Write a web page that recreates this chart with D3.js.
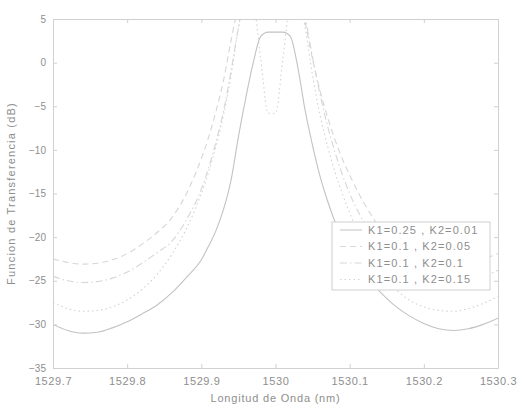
<!DOCTYPE html>
<html>
<head>
<meta charset="utf-8">
<script src="https://cdnjs.cloudflare.com/ajax/libs/d3/7.8.5/d3.min.js"></script>
<style>
  body { margin: 0; background: #fff; }
  svg text { font-family: "Liberation Sans", Arial, sans-serif; }
</style>
</head>
<body>
<div id="chart"></div>
<script>
// wavelength grid (nm)
var wavelengths = [1529.70, 1529.72, 1529.74, 1529.76, 1529.78, 1529.80, 1529.82, 1529.84, 1529.86, 1529.88,
  1529.90, 1529.91, 1529.92, 1529.93, 1529.94, 1529.95, 1529.96, 1529.97, 1529.98, 1529.99,
  1530.00, 1530.01, 1530.02, 1530.03, 1530.04, 1530.05, 1530.06, 1530.07, 1530.08, 1530.09,
  1530.10, 1530.12, 1530.14, 1530.16, 1530.18, 1530.20, 1530.22, 1530.24, 1530.26, 1530.28, 1530.30];

// transfer function (dB), values above 5 are cut off by the plot box
var k1_025_k2_001 = [-30.0, -30.7, -31.0, -30.9, -30.4, -29.7, -28.8, -27.8, -26.4, -24.6,
  -22.6, -21.0, -19.2, -16.8, -13.5, -8.5, -4.0, 0.0, 3.0, 3.5,
  3.5, 3.5, 3.0, -0.5, -5.5, -9.5, -13.0, -15.8, -18.2, -20.2,
  -21.8, -24.2, -26.2, -27.8, -29.0, -29.9, -30.5, -30.7, -30.5, -30.0, -29.3];
var k1_01_k2_005 = [-22.5, -22.9, -23.1, -23.0, -22.6, -21.9, -20.8, -19.5, -17.8, -15.0,
  -11.0, -8.5, -5.5, -2.0, 2.5, 6.5, 9.0, 10.5, 11.0, 11.5,
  11.5, 11.0, 10.0, 8.0, 4.6, 0.4, -3.2, -6.2, -8.8, -11.0,
  -12.9, -16.2, -18.8, -20.6, -21.9, -22.6, -23.0, -23.1, -22.9, -22.5, -21.9];
var k1_01_k2_01 = [-24.5, -25.0, -25.2, -25.1, -24.7, -24.0, -23.0, -21.8, -20.5, -18.0,
  -14.5, -12.0, -9.0, -5.5, -1.0, 4.0, 8.0, 10.5, 11.5, 11.5,
  11.5, 11.5, 11.0, 9.0, 5.2, 0.6, -3.6, -7.2, -10.2, -12.8,
  -15.0, -18.4, -21.0, -22.8, -24.0, -24.7, -25.1, -25.2, -25.0, -24.5, -23.8];
var k1_01_k2_015 = [-27.5, -28.2, -28.5, -28.4, -28.0, -27.2, -26.0, -24.3, -22.0, -19.0,
  -15.0, -12.5, -9.5, -6.0, -1.5, 4.0, 8.5, 7.0, 0.5, -5.8,
  -5.8, 0.5, 7.0, 8.5, 4.0, -1.5, -6.0, -9.5, -12.5, -15.0,
  -17.2, -21.0, -23.8, -25.8, -27.2, -28.0, -28.4, -28.5, -28.2, -27.6, -26.8];

var seriesNames = ["K1=0.25 , K2=0.01", "K1=0.1 , K2=0.05", "K1=0.1 , K2=0.1", "K1=0.1 , K2=0.15"];
var seriesValues = [k1_025_k2_001, k1_01_k2_005, k1_01_k2_01, k1_01_k2_015];
var seriesDash = ["none", "6,4", "7,3,1.5,3", "1.5,3"];
var seriesColor = ["#c2c2c2", "#d6d6d6", "#d6d6d6", "#d2d2d2"];

var xTicks = [1529.7, 1529.8, 1529.9, 1530.0, 1530.1, 1530.2, 1530.3];
var xTickLabels = ["1529.7", "1529.8", "1529.9", "1530", "1530.1", "1530.2", "1530.3"];
var yTicks = [5, 0, -5, -10, -15, -20, -25, -30, -35];

// set the dimensions and margins of the graph
var margin = {top: 19, right: 22, bottom: 38, left: 53},
width = 520 - margin.left - margin.right,
height = 406 - margin.top - margin.bottom;

var svg = d3.select("#chart")
.append("svg")
.attr("width", width + margin.left + margin.right)
.attr("height", height + margin.top + margin.bottom)
.append("g")
.attr("transform", "translate(" + margin.left + "," + margin.top + ")");

var x = d3.scaleLinear().domain([1529.7, 1530.3]).range([0, width]);
var y = d3.scaleLinear().domain([-35, 5]).range([height, 0]);

var axisColor = "#d0d0d0", textColor = "#8e8e8e";

// clip the curves to the plot box
svg.append("clipPath").attr("id", "clip")
.append("rect").attr("width", width).attr("height", height);

// the curves
var line = d3.line()
.x(function(d) { return x(d[0]); })
.y(function(d) { return y(d[1]); })
.curve(d3.curveMonotoneX);

svg.append("g").attr("clip-path", "url(#clip)")
.selectAll("path")
.data(seriesValues)
.enter()
.append("path")
.attr("d", function(vals) { return line(wavelengths.map(function(w, i) { return [w, vals[i]]; })); })
.style("fill", "none")
.style("stroke", function(d, i) { return seriesColor[i]; })
.style("stroke-width", 1.1)
.style("stroke-dasharray", function(d, i) { return seriesDash[i]; });

// axes: ticks point inward on all four sides (matlab style)
function styleAxis(g) {
  g.select(".domain").attr("stroke", axisColor);
  g.selectAll(".tick line").attr("stroke", axisColor);
  g.selectAll(".tick text").attr("fill", textColor);
}

svg.append("g")
.attr("transform", "translate(0," + height + ")")
.call(d3.axisBottom(x).tickValues(xTicks).tickSizeInner(-4).tickSizeOuter(0).tickPadding(9)
  .tickFormat(function(d, i) { return xTickLabels[i]; }))
.call(styleAxis)
.selectAll("text")
.style("font-size", "11px")
.style("letter-spacing", "0.6px");

svg.append("g")
.call(d3.axisTop(x).tickValues(xTicks).tickSizeInner(-4).tickSizeOuter(0).tickFormat(""))
.call(styleAxis);

svg.append("g")
.call(d3.axisLeft(y).tickValues(yTicks).tickSizeInner(-4).tickSizeOuter(0).tickPadding(7))
.call(styleAxis)
.selectAll("text")
.style("font-size", "10px");

svg.append("g")
.attr("transform", "translate(" + width + ",0)")
.call(d3.axisRight(y).tickValues(yTicks).tickSizeInner(-4).tickSizeOuter(0).tickFormat(""))
.call(styleAxis);

// axis titles
svg.append("text")
.attr("x", x(1530.0))
.attr("y", height + 34)
.style("text-anchor", "middle")
.style("font-size", "11px")
.style("letter-spacing", "0.8px")
.style("fill", textColor)
.text("Longitud de Onda (nm)");

svg.append("text")
.attr("transform", "translate(" + (-38) + "," + (height / 2) + ") rotate(-90)")
.style("text-anchor", "middle")
.style("font-size", "11px")
.style("letter-spacing", "1.2px")
.style("fill", textColor)
.text("Funcion de Transferencia (dB)");

// legend
var legend = svg.append("g")
.attr("transform", "translate(" + (332 - margin.left) + "," + (222 - margin.top) + ")");

legend.append("rect")
.attr("width", 158)
.attr("height", 68)
.style("fill", "#fff")
.style("stroke", axisColor);

var rows = legend.selectAll(".row")
.data(seriesNames)
.enter()
.append("g")
.attr("class", "row")
.attr("transform", function(d, i) { return "translate(0," + (8 + i * 16.5) + ")"; });

rows.append("line")
.attr("x1", 8).attr("x2", 30)
.style("stroke", function(d, i) { return seriesColor[i]; })
.style("stroke-dasharray", function(d, i) { return seriesDash[i]; });

rows.append("text")
.attr("x", 36)
.attr("dy", "0.35em")
.style("font-size", "11px")
.style("letter-spacing", "1.1px")
.style("fill", textColor)
.text(function(d) { return d; });
</script>
</body>
</html>
